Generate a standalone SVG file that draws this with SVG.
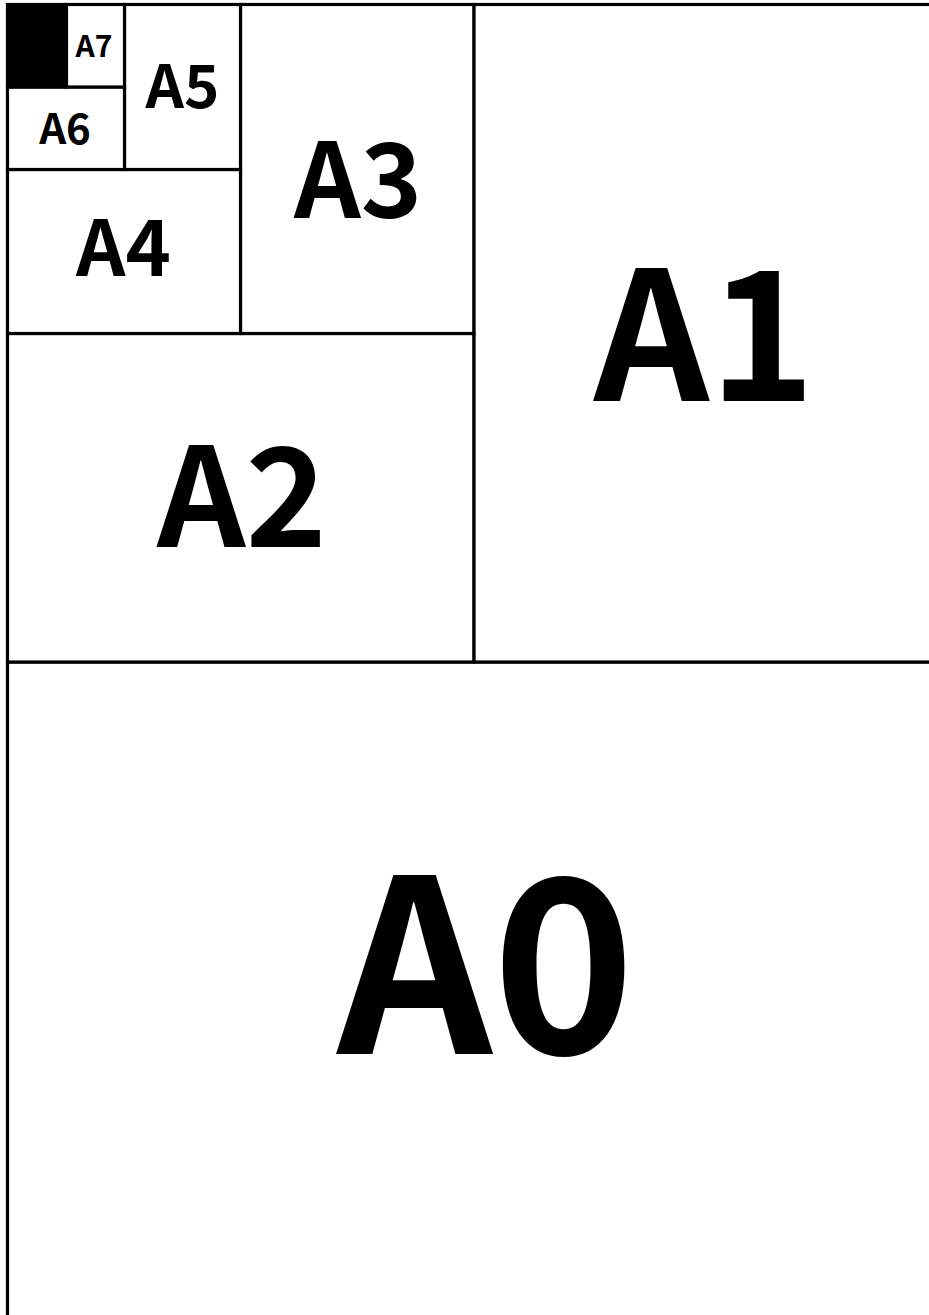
<svg xmlns="http://www.w3.org/2000/svg" width="929" height="1315" viewBox="0 0 929 1315">
<style>
.sheet{fill:#fff;stroke:#000;stroke-width:3.2}
.lbl{font-family:"Noto Sans CJK JP","Noto Sans",sans-serif;font-weight:bold;fill:#000;text-anchor:middle}
</style>
<rect width="929" height="1315" fill="#fff"/>
<g id="A0"><rect class="sheet" x="7.5" y="662" width="940" height="700"/><text class="lbl" x="486" y="1054" font-size="242">A0</text></g>
<g id="A1"><rect class="sheet" x="473.8" y="4.5" width="470" height="657.5"/><text class="lbl" x="704.5" y="400.5" font-size="180">A1</text></g>
<g id="A2"><rect class="sheet" x="7.5" y="333.5" width="466.3" height="328.5"/><text class="lbl" x="242" y="547" font-size="138">A2</text></g>
<g id="A3"><rect class="sheet" x="240.5" y="4.5" width="233.3" height="329"/><text class="lbl" x="358" y="218" font-size="104">A3</text></g>
<g id="A4"><rect class="sheet" x="7.5" y="169.5" width="233" height="164"/><text class="lbl" x="123.5" y="276" font-size="77">A4</text></g>
<g id="A5"><rect class="sheet" x="124.5" y="4.5" width="116" height="165"/><text class="lbl" x="182.5" y="108" font-size="60">A5</text></g>
<g id="A6"><rect class="sheet" x="7.5" y="87" width="117" height="82.5"/><text class="lbl" x="65" y="144" font-size="42">A6</text></g>
<g id="A7"><rect class="sheet" x="66" y="4.5" width="58.5" height="82.5"/><text class="lbl" x="94" y="57" font-size="30">A7</text></g>
<g id="rest"><rect x="7.5" y="4.5" width="59" height="82.5" fill="#000" stroke="#000" stroke-width="3.2"/></g>
<g id="connectors"></g>
</svg>
